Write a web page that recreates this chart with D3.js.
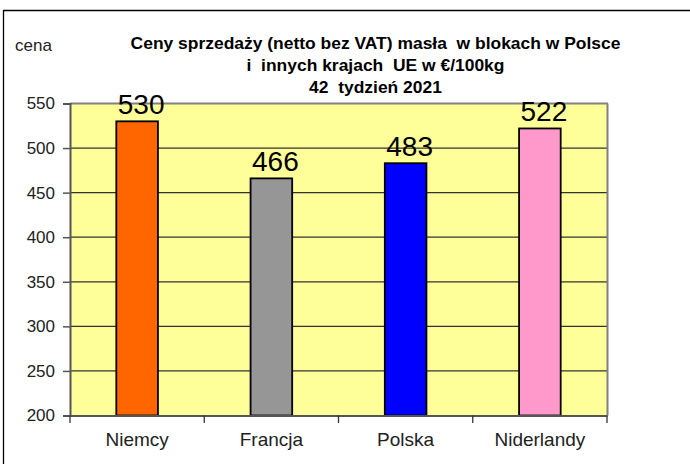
<!DOCTYPE html>
<html>
<head>
<meta charset="utf-8">
<script src="https://cdn.jsdelivr.net/npm/d3@7"></script>
<style>
  html, body { margin: 0; padding: 0; background: #fff; }
  svg { display: block; font-family: "Liberation Sans", Arial, sans-serif; }
  .title text { white-space: pre; }
</style>
</head>
<body>
<svg id="chart" width="690" height="464"></svg>
<script>
const categories = ["Niemcy", "Francja", "Polska", "Niderlandy"];
const values = [530, 466, 483, 522];
const barColors = ["#FF6600", "#969696", "#0000FF", "#FF99CC"];
const yTicks = [200, 250, 300, 350, 400, 450, 500, 550];
const titleLines = [
  "Ceny sprzedaży (netto bez VAT) masła  w blokach w Polsce",
  "i  innych krajach  UE w €/100kg",
  "42  tydzień 2021"
];
const yLabel = "cena";

const svg = d3.select("#chart");
const plot = { left: 70, right: 607, top: 103.5, bottom: 415.5 };

const x = d3.scaleBand().domain(categories).range([plot.left, plot.right]).paddingInner(0.69).paddingOuter(0.345);
const xb = d3.scaleBand().domain(categories).range([plot.left, plot.right]);
const y = d3.scaleLinear().domain([200, 550]).range([plot.bottom, plot.top]);

// outer frame
svg.append("line").attr("x1", 3.5).attr("x2", 690).attr("y1", 10.5).attr("y2", 10.5)
  .attr("stroke", "#000").attr("stroke-width", 1.3);
svg.append("line").attr("x1", 3.5).attr("x2", 3.5).attr("y1", 10).attr("y2", 464)
  .attr("stroke", "#000").attr("stroke-width", 1.3);

// plot background
svg.append("rect").attr("x", plot.left).attr("y", plot.top)
  .attr("width", plot.right - plot.left).attr("height", plot.bottom - plot.top)
  .attr("fill", "#FFFF99");

// gridlines
svg.append("g").selectAll("line").data(yTicks.filter(t => t > 200 && t < 550)).join("line")
  .attr("x1", plot.left).attr("x2", plot.right)
  .attr("y1", d => y(d)).attr("y2", d => y(d))
  .attr("stroke", "#333").attr("stroke-width", 1.3);

// plot border top/right
svg.append("line").attr("x1", plot.left).attr("x2", plot.right + 1).attr("y1", plot.top).attr("y2", plot.top)
  .attr("stroke", "#808080").attr("stroke-width", 2);
svg.append("line").attr("x1", plot.right + 0.5).attr("x2", plot.right + 0.5).attr("y1", plot.top).attr("y2", plot.bottom)
  .attr("stroke", "#808080").attr("stroke-width", 2);

// bars
svg.append("g").selectAll("rect").data(values).join("rect")
  .attr("x", (d, i) => x(categories[i]))
  .attr("y", d => y(d))
  .attr("width", x.bandwidth())
  .attr("height", d => plot.bottom - y(d))
  .attr("fill", (d, i) => barColors[i])
  .attr("stroke", "#000").attr("stroke-width", 1.8);

// y axis
const yAxis = d3.axisLeft(y).tickValues(yTicks).tickSize(7).tickPadding(8);
const gy = svg.append("g").attr("transform", `translate(${plot.left},0)`).call(yAxis);
gy.select(".domain").attr("stroke", "#555").attr("stroke-width", 2);
gy.selectAll(".tick line").attr("stroke", "#555").attr("stroke-width", 1.5);
gy.selectAll(".tick text").attr("font-size", 17).attr("fill", "#222")
  .attr("font-family", "Liberation Sans, Arial, sans-serif");

// x axis
const xAxis = d3.axisBottom(xb).tickSize(0).tickPadding(0);
const gx = svg.append("g").attr("transform", `translate(0,${plot.bottom})`).call(xAxis);
gx.select(".domain").attr("stroke", "#555").attr("stroke-width", 2);
gx.selectAll(".tick text").attr("font-size", 19).attr("fill", "#222")
  .attr("font-family", "Liberation Sans, Arial, sans-serif")
  .attr("dy", null).attr("y", 30);
// category boundary ticks
const bounds = categories.map(c => xb(c)).concat([plot.right]);
gx.append("g").selectAll("line").data(bounds).join("line")
  .attr("x1", d => d).attr("x2", d => d).attr("y1", 0).attr("y2", 7.5)
  .attr("stroke", "#333").attr("stroke-width", 1.3);

// value labels
svg.append("g").selectAll("text").data(values).join("text")
  .attr("x", (d, i) => xb(categories[i]) + xb.bandwidth() / 2 + 4)
  .attr("y", d => y(d) - 7)
  .attr("text-anchor", "middle")
  .attr("font-size", 28)
  .attr("fill", "#000")
  .text(d => d);

// y label
svg.append("text").attr("x", 15).attr("y", 51).attr("font-size", 17).attr("fill", "#222").text(yLabel);

// title (condensed bold)
const titleG = svg.append("g").attr("class", "title");
const baselines = [49, 71.5, 93.5];
const tt = titleG.selectAll("text").data(titleLines).join("text")
  .attr("x", 0).attr("y", (d, i) => baselines[i])
  .attr("text-anchor", "middle")
  .attr("font-size", 17).attr("font-weight", "bold").attr("fill", "#000")
  .text(d => d);
const w0 = tt.nodes()[0].getComputedTextLength();
const sx = 490 / w0;
titleG.attr("transform", `translate(375.5,0) scale(${sx},1)`);
</script>
</body>
</html>
